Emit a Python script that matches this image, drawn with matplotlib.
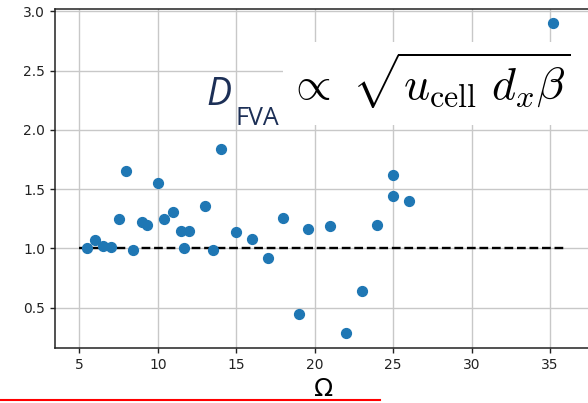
import numpy as np
import matplotlib
matplotlib.use('Agg')
from matplotlib import pyplot as plt
from matplotlib.patches import Rectangle
from matplotlib.lines import Line2D

# omega vs normalised D_FVA
omega = [5.5, 6.0, 6.5, 7.0, 7.5, 8.0, 8.4, 9.0, 9.3, 10.0, 10.4, 11.0, 11.5, 11.7,
         12.0, 13.0, 13.5, 14.0, 15.0, 16.0, 17.0, 18.0, 19.0, 19.6, 21.0, 22.0,
         23.0, 24.0, 25.0, 25.0, 26.0, 35.2]
ratio = [1.00, 1.07, 1.02, 1.01, 1.25, 1.65, 0.99, 1.22, 1.20, 1.55, 1.25, 1.31, 1.15, 1.00,
         1.15, 1.36, 0.99, 1.84, 1.14, 1.08, 0.92, 1.26, 0.45, 1.16, 1.19, 0.29,
         0.64, 1.20, 1.44, 1.62, 1.40, 2.90]
ref_x = [5.0, 36.0]
ref_y = [1.0, 1.0]
x_ticks = [5, 10, 15, 20, 25, 30, 35]
y_ticks = [0.5, 1.0, 1.5, 2.0, 2.5, 3.0]

W, H = 588, 403
fig = plt.figure(figsize=(W / 100, H / 100), dpi=100)
ax = fig.add_axes([55 / W, 1 - 348 / H, (590 - 55) / W, (348 - 9) / H])

ax.scatter(omega, ratio, s=50, color='#1f77b4', zorder=3)
ax.plot(ref_x, ref_y, 'k--', lw=1.7, zorder=2)
ax.set_xlim(3.45, 37.55)
ax.set_ylim(0.16, 3.02)
ax.set_xticks(x_ticks)
ax.set_yticks(y_ticks)
ax.grid(True, color='#c8c8c8', lw=1.0)
ax.set_axisbelow(True)
ax.tick_params(labelsize=10, colors='#222222', width=1.0)
for sp in ax.spines.values():
    sp.set_linewidth(1.1)
    sp.set_color('#222222')

# x label sits below the axes
fig.text(323 / W, 1 - 389 / H, r'$\Omega$', fontsize=18, ha='center', va='center',
         family='DejaVu Sans')

# white box behind the formula
fig.patches.append(Rectangle((283 / W, 1 - 125 / H), (W - 283) / W + 0.01, 83 / H,
                             transform=fig.transFigure, facecolor='white',
                             edgecolor='none', zorder=2))

navy = '#1c2f56'
fig.text(206 / W, 1 - 105 / H, 'D', fontsize=27, style='italic', color=navy,
         family='Open Sans', ha='left', va='baseline', zorder=4)
fig.text(236 / W, 1 - 125 / H, 'FVA', fontsize=18, color=navy,
         family='Open Sans', ha='left', va='baseline', zorder=4)
fig.text(287 / W, 1 - 100 / H, r'$\propto\ \sqrt{u_{\rm cell}\ d_x\beta}$',
         fontsize=33, ha='left', va='baseline', zorder=4, math_fontfamily='cm')

# red underline at the bottom
fig.lines.append(Line2D([0, 380 / W], [1 - 400 / H, 1 - 400 / H], transform=fig.transFigure,
                        color='red', lw=1.5))

fig.savefig('out.png', dpi=100)
